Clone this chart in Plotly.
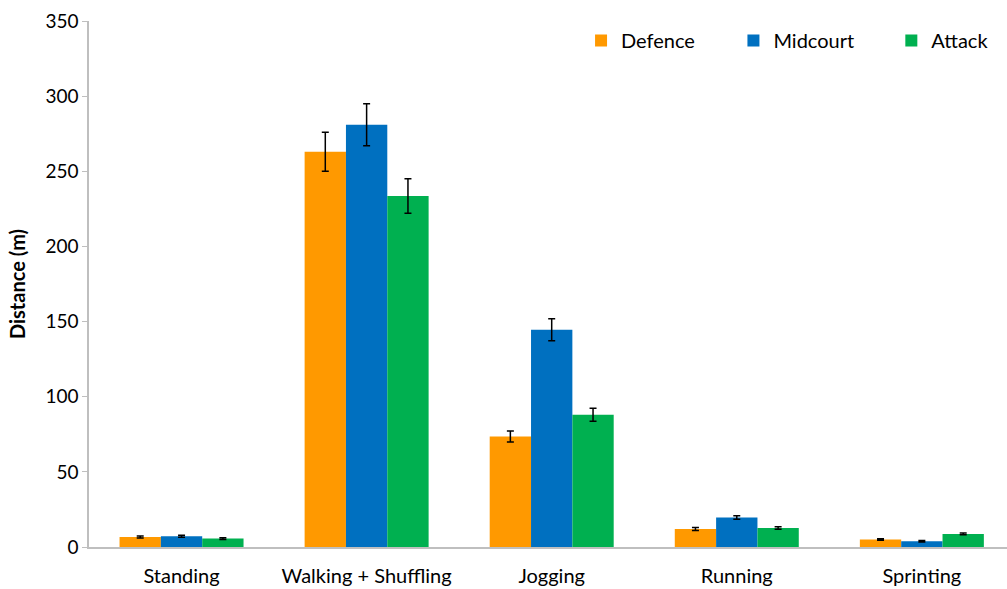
import plotly.graph_objects as go

categories = ["Standing", "Walking + Shuffling", "Jogging", "Running", "Sprinting"]
defence = [6.7, 263, 73.5, 12.0, 5.0]
defence_err = [0.7, 13, 3.7, 1.0, 0.5]
midcourt = [7.2, 281, 144.5, 19.6, 3.8]
midcourt_err = [0.7, 14, 7.3, 1.2, 0.5]
attack = [5.6, 233.5, 88, 12.6, 8.7]
attack_err = [0.6, 11.5, 4.3, 0.8, 0.6]

series = [
    ("Defence", defence, defence_err, "#FF9900", "legend", 0.536),
    ("Midcourt", midcourt, midcourt_err, "#0070C0", "legend2", 0.702),
    ("Attack", attack, attack_err, "#00B050", "legend3", 0.874),
]

font = "Lato, 'Open Sans', sans-serif"
fig = go.Figure()
legends = {}
for name, vals, errs, color, lg, lx in series:
    fig.add_trace(go.Bar(
        name=name, x=categories, y=vals, marker_color=color,
        marker_line_width=0, legend=lg,
        error_y=dict(type="data", array=errs, color="black", thickness=1.5, width=3.5),
    ))
    legends[lg] = dict(orientation="h", x=lx, y=1.0, xanchor="left", yanchor="top",
                       font=dict(size=20, family=font), bgcolor="rgba(0,0,0,0)")

fig.update_layout(
    width=1007, height=589,
    margin=dict(l=89, r=0, t=21, b=42),
    paper_bgcolor="white", plot_bgcolor="white",
    barmode="group", bargap=0.33, bargroupgap=0,
    font=dict(family=font, size=20, color="black"),
    showlegend=True,
    **legends,
    xaxis=dict(range=[-0.5, 4.46], showline=True, linecolor="#BFBFBF", linewidth=1.5,
               ticks="", tickfont=dict(size=20), showgrid=False, ticklabelstandoff=10),
    yaxis=dict(range=[0, 350], dtick=50, showline=True, linecolor="#BFBFBF", linewidth=1.5,
               ticks="outside", ticklen=5, tickcolor="#BFBFBF", showgrid=False, zeroline=False,
               tickfont=dict(size=19),
               title=dict(text="<b>Distance (m)</b>", font=dict(size=20), standoff=14)),
)

fig.write_html("out.html")
